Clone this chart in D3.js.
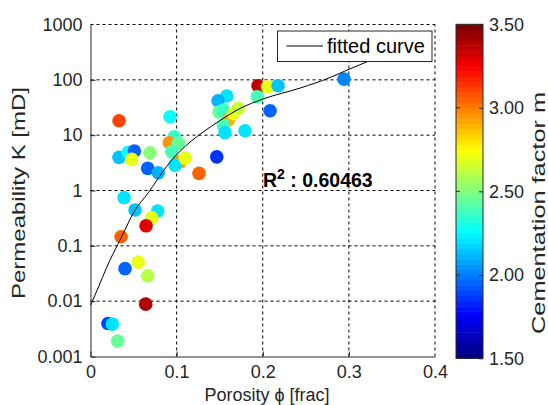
<!DOCTYPE html>
<html>
<head>
<meta charset="utf-8">
<script src="https://cdn.jsdelivr.net/npm/d3@7"></script>
<style>
body { margin: 0; background: #fff; }
text { font-family: "Liberation Sans", Arial, sans-serif; }
</style>
</head>
<body>
<svg id="chart" width="548" height="405"></svg>
<script>
// samples: porosity [frac], permeability [mD], cementation factor m
var porosity = [0.0331, 0.2944, 0.1945, 0.2056, 0.2178, 0.1937, 0.2085, 0.1794, 0.1582, 0.1481,
    0.1492, 0.1542, 0.1600, 0.1659, 0.1717, 0.1542, 0.1562, 0.1466, 0.1260, 0.0923,
    0.0973, 0.0915, 0.1020, 0.0943, 0.1040, 0.0981, 0.1098, 0.0331, 0.0439, 0.0509,
    0.0479, 0.0691, 0.0664, 0.0787, 0.0389, 0.0517, 0.0780, 0.0711, 0.0645, 0.0354,
    0.0555, 0.0401, 0.0664, 0.0641, 0.0203, 0.0253, 0.0316];
var permeability = [18.2, 103, 78, 75, 78, 49.5, 27.6, 12.0, 51, 41.9,
    26.2, 28.4, 18.8, 24.8, 30.5, 15.2, 11.1, 4.06, 2.04, 21.5,
    9.35, 7.29, 7.1, 5.0, 3.3, 2.88, 3.85, 3.97, 4.89, 5.15,
    3.65, 4.8, 2.51, 2.09, 0.745, 0.443, 0.424, 0.32, 0.23, 0.146,
    0.0507, 0.0387, 0.0287, 0.00883, 0.00395, 0.00384, 0.00191];
var cementation = [3.1, 2.0, 3.35, 2.7, 2.15, 2.4, 1.95, 2.2, 2.2, 2.1,
    2.45, 2.35, 2.9, 2.7, 2.65, 2.4, 2.2, 1.85, 3.05, 2.25,
    2.35, 2.95, 2.45, 2.4, 2.95, 2.2, 2.7, 2.15, 2.25, 1.95,
    2.7, 2.5, 1.95, 2.1, 2.2, 2.15, 2.2, 2.7, 3.3, 3.05,
    2.7, 1.95, 2.6, 3.4, 1.9, 2.2, 2.45];

// fitted curve
var curvePorosity = [0, 0.0052, 0.0226, 0.0354, 0.0517, 0.0668, 0.0772, 0.0923, 0.1156, 0.1307,
    0.1504, 0.1736, 0.2003, 0.2433, 0.2782, 0.2979, 0.3211, 0.359];
var curvePerm = [0.00847, 0.01285, 0.0551, 0.138, 0.442, 0.898, 1.54, 3.26, 7.5, 11.4,
    18.4, 30.3, 45, 71, 110, 150, 212, 376];

var xTicks = [0, 0.1, 0.2, 0.3, 0.4];
var yTicks = [0.001, 0.01, 0.1, 1, 10, 100, 1000];
var cTicks = [1.5, 2.0, 2.5, 3.0, 3.5];
var rSquared = "0.60463";

var svg = d3.select("#chart");
var ink = "#262626";

var margin = {left: 90.5, right: 435, top: 24.5, bottom: 356.5};

var x = d3.scaleLinear().domain([0, 0.4]).range([margin.left, margin.right]);
var y = d3.scaleLog().domain([0.001, 1000]).range([margin.bottom, margin.top]);
var c = d3.scaleLinear().domain([1.5, 3.5]).range([358.3, 24.3]);

// MATLAB style jet, 64 levels
function jet(t) {
    var k = Math.min(63, Math.max(0, Math.floor(t * 64)));
    var s = k / 63;
    function cl(v) { return Math.max(0, Math.min(1, v)); }
    var r = cl(Math.min(4 * s - 1.5, -4 * s + 4.5));
    var g = cl(Math.min(4 * s - 0.5, -4 * s + 3.5));
    var b = cl(Math.min(4 * s + 0.5, -4 * s + 2.5));
    return d3.rgb(r * 255, g * 255, b * 255).toString();
}
function mColor(m) { return jet((m - 1.5) / 2); }

// grid
var grid = svg.append("g")
    .attr("stroke", "#000")
    .attr("stroke-width", 1)
    .attr("stroke-dasharray", "3,3");
grid.selectAll(".gx").data(xTicks.slice(1)).enter().append("line")
    .attr("x1", function(d) { return x(d); }).attr("x2", function(d) { return x(d); })
    .attr("y1", margin.bottom).attr("y2", margin.top);
grid.selectAll(".gy").data(yTicks.slice(1)).enter().append("line")
    .attr("y1", function(d) { return y(d); }).attr("y2", function(d) { return y(d); })
    .attr("x1", margin.left).attr("x2", margin.right);

// points
svg.append("g").selectAll("circle").data(porosity).enter().append("circle")
    .attr("cx", function(d) { return x(d); })
    .attr("cy", function(d, i) { return y(permeability[i]); })
    .attr("r", 6.8)
    .attr("fill", function(d, i) { return mColor(cementation[i]); });

// fitted curve
var line = d3.line()
    .x(function(d) { return x(d); })
    .y(function(d, i) { return y(curvePerm[i]); })
    .curve(d3.curveMonotoneX);
svg.append("path")
    .datum(curvePorosity)
    .attr("d", line)
    .attr("fill", "none")
    .attr("stroke", "#000")
    .attr("stroke-width", 1);

// axes
var xAxis = d3.axisBottom(x).tickValues(xTicks).tickFormat(d3.format("~g"))
    .tickSizeInner(-5).tickSizeOuter(0).tickPadding(9);
var yAxis = d3.axisLeft(y).tickValues(yTicks).tickFormat(d3.format("~g"))
    .tickSizeInner(-5).tickSizeOuter(0).tickPadding(8);

var gx = svg.append("g").attr("transform", "translate(0," + margin.bottom + ")").call(xAxis);
var gy = svg.append("g").attr("transform", "translate(" + margin.left + ",0)").call(yAxis);
[gx, gy].forEach(function(g) {
    g.selectAll("path, line").attr("stroke", ink);
    g.selectAll("text").attr("fill", ink).style("font-size", "18px");
});
gx.select(".tick:last-of-type line").remove();
gy.select(".tick:last-of-type line").remove();

// axis labels
svg.append("text")
    .attr("x", 267).attr("y", 401)
    .attr("text-anchor", "middle")
    .attr("fill", ink)
    .style("font-size", "18px")
    .text("Porosity \u03d5 [frac]");

svg.append("text")
    .attr("transform", "translate(25,193) rotate(-90)")
    .attr("text-anchor", "middle")
    .attr("fill", ink)
    .attr("textLength", 212)
    .attr("lengthAdjust", "spacingAndGlyphs")
    .style("font-size", "18px")
    .text("Permeability K [mD]");

// R squared
var r2 = svg.append("text")
    .attr("x", 263).attr("y", 187)
    .attr("fill", "#000")
    .style("font-size", "19.5px")
    .style("font-weight", "bold");
r2.append("tspan").text("R");
r2.append("tspan").attr("dy", -8).style("font-size", "14px").text("2");
r2.append("tspan").attr("dy", 8).text(" : " + rSquared);

// legend
var legend = svg.append("g");
legend.append("rect")
    .attr("x", 277.5).attr("y", 31)
    .attr("width", 154.5).attr("height", 30.5)
    .attr("fill", "#fff").attr("stroke", ink);
legend.append("line")
    .attr("x1", 286.5).attr("x2", 323)
    .attr("y1", 46).attr("y2", 46)
    .attr("stroke", "#000");
legend.append("text")
    .attr("x", 327).attr("y", 53)
    .attr("fill", "#000")
    .style("font-size", "20px")
    .text("fitted curve");

// colorbar
var cbX = 456, cbW = 27;
var levels = d3.range(64);
svg.append("g").selectAll("rect").data(levels).enter().append("rect")
    .attr("x", cbX)
    .attr("y", function(k) { return c(1.5 + (k + 1) / 64 * 2); })
    .attr("width", cbW)
    .attr("height", function(k) { return c(1.5 + k / 64 * 2) - c(1.5 + (k + 1) / 64 * 2) + 0.5; })
    .attr("fill", function(k) { return jet((k + 0.5) / 64); });
svg.append("rect")
    .attr("x", cbX).attr("y", c(3.5))
    .attr("width", cbW).attr("height", c(1.5) - c(3.5))
    .attr("fill", "none").attr("stroke", ink);

var cAxis = d3.axisRight(c).tickValues(cTicks).tickFormat(d3.format(".2f"))
    .tickSizeInner(-4).tickSizeOuter(0).tickPadding(6);
var gc = svg.append("g").attr("transform", "translate(" + (cbX + cbW) + ",0)").call(cAxis);
gc.select(".domain").remove();
gc.selectAll("line").attr("stroke", ink);
gc.selectAll("text").attr("fill", ink).style("font-size", "18px");
svg.append("g").selectAll("line").data(cTicks.slice(1, -1)).enter().append("line")
    .attr("x1", cbX).attr("x2", cbX + 4)
    .attr("y1", function(d) { return c(d); }).attr("y2", function(d) { return c(d); })
    .attr("stroke", ink);

svg.append("text")
    .attr("transform", "translate(545,213) rotate(-90)")
    .attr("text-anchor", "middle")
    .attr("fill", ink)
    .attr("textLength", 242)
    .attr("lengthAdjust", "spacingAndGlyphs")
    .style("font-size", "19px")
    .text("Cementation factor m");
</script>
</body>
</html>
